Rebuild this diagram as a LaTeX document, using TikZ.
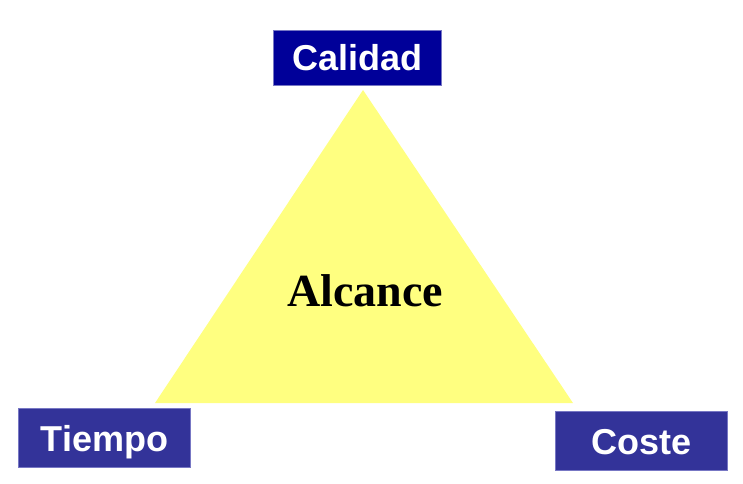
\documentclass[tikz,border=0pt]{standalone}
\usepackage{fontspec}
\setmainfont{Liberation Sans}
\newfontfamily\alcancefont{Liberation Serif}
\definecolor{calidadblue}{HTML}{000099}
\definecolor{ladoblue}{HTML}{333399}
\definecolor{bordeblue}{HTML}{7777C4}
\definecolor{alcanceyellow}{HTML}{FFFF80}
\tikzset{
	vertice/.style={draw=bordeblue, line width=0.8pt, text=white, font=\fontsize{36}{36}\selectfont\bfseries,
		inner sep=0pt, text height=26pt, text depth=0pt, align=center}
}

\begin{document}
\begin{tikzpicture}[x=1pt, y=-1pt]
		
		\useasboundingbox (0,0) rectangle (743,483);
		
		% Triangle of the scope
		\fill[alcanceyellow] (363,90) -- (573,403) -- (155,403) -- cycle;
		\node[font=\alcancefont\fontsize{46}{46}\selectfont\bfseries, text height=31pt, text depth=0pt, inner sep=0pt] (alcance) at (365,291) {Alcance};
		
		% Corner boxes: name / colour / x / y / width / height / text
		\foreach \nombre/\col/\x/\y/\w/\h/\txt in {calidad/calidadblue/357.5/57.5/168/55/Calidad, tiempo/ladoblue/104.5/438/172/59/Tiempo, coste/ladoblue/641.5/441/172/59/Coste} {
			\node[vertice, fill=\col, minimum width=\w pt, minimum height=\h pt] (\nombre) at (\x,\y) {\txt};
		}
		
	\end{tikzpicture}
\end{document}
